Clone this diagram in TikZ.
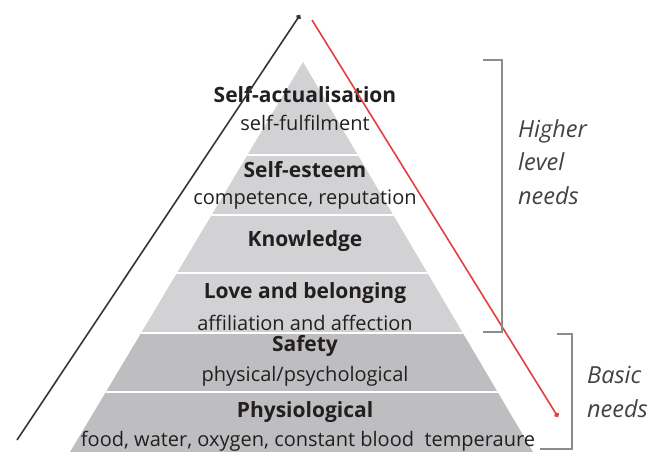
\documentclass[tikz,border=0pt]{standalone}
\usepackage{fontspec}
\setmainfont{Open Sans}
\usetikzlibrary{arrows.meta,positioning,calc}

\definecolor{bandlight}{RGB}{210,210,212}
\definecolor{banddark}{RGB}{190,190,193}
\definecolor{ink}{RGB}{35,31,32}
\definecolor{bracketgray}{RGB}{140,140,140}
\definecolor{trendred}{RGB}{228,62,62}

\tikzset{
  need/.style={font=\fontsize{21}{24}\selectfont\bfseries, text=ink, inner sep=0pt},
  detail/.style={font=\fontsize{20}{24}\selectfont, text=ink, inner sep=0pt},
  group/.style={font=\fontsize{23.5}{33.5}\selectfont\itshape, text=ink!85, align=left, anchor=west, inner sep=0pt},
  bracket/.style={draw=bracketgray, line width=1.5pt},
}

\begin{document}
\begin{tikzpicture}[x=1pt,y=-1pt]
  \useasboundingbox (0,0) rectangle (656,452);

  % Corners of the pyramid
  \coordinate (apex) at (303,62);
  \coordinate (baseL) at (70,452);
  \coordinate (baseR) at (533,452);

  % Grey bands, the two basic ones darker
  \begin{scope}
    \clip (apex) -- (baseL) -- (baseR) -- cycle;
    \fill[bandlight] (0,0) rectangle (656,333);
    \fill[banddark] (0,333) rectangle (656,452);
    \foreach \y in {155,215,273,333,392}
      \draw[white, line width=2pt] (0,\y) -- (656,\y);
  \end{scope}

  % Level names and what they stand for
  \node[need]   (selfact)  at (305,95)  {Self-actualisation};
  \node[detail] (selfful)  at (305,123) {self-fulfilment};
  \node[need]   (esteem)   at (305,170) {Self-esteem};
  \node[detail] (compet)   at (305,200) {competence, reputation};
  \node[need]   (knowl)    at (305,241) {Knowledge};
  \node[need]   (love)     at (305,293) {Love and belonging};
  \node[detail] (affil)    at (305,323) {affiliation and affection};
  \node[need]   (safety)   at (305,346) {Safety};
  \node[detail] (physpsy)  at (305,376) {physical/psychological};
  \node[need]   (physio)   at (305,412) {Physiological};
  \node[detail] (food)     at (308,441) {food, water, oxygen, constant blood\ \ temperaure};

  % Rising and falling lines along the sides
  \coordinate (upS) at (17,440);
  \coordinate (upE) at (300,15);
  \coordinate (downS) at (312,20);
  \coordinate (downE) at (558,417);
  \draw[ink!90, line width=1.6pt, -{Circle[length=5pt]}] (upS) -- (upE);
  \draw[trendred, line width=1.6pt, -{Circle[length=5pt]}] (downS) -- (downE);

  % Brackets for the two groups
  \draw[bracket] (483,60) -- (502,60) -- (502,332) -- (483,332);
  \draw[bracket] (557,334) -- (572,334) -- (572,449) -- (540,449);
  \node[group] (higher) at (518,162) {Higher\\level\\needs};
  \node[group] (basic)  at (587,392) {Basic\\needs};
\end{tikzpicture}
\end{document}
